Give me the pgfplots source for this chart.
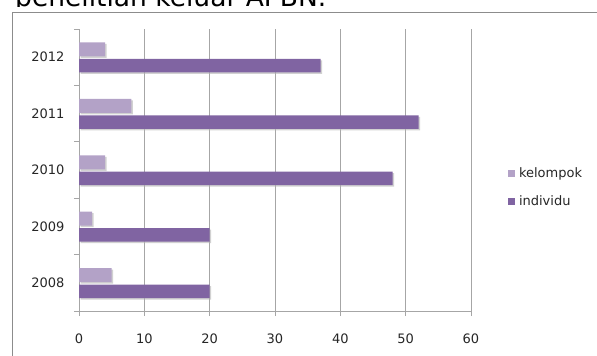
\documentclass[border=0pt]{standalone}
\usepackage{fontspec}
\setmainfont{DejaVu Sans}
\usepackage{pgfplots}
\pgfplotsset{compat=1.18}
\usetikzlibrary{shadows}
\definecolor{kel}{HTML}{B3A2C7}
\definecolor{ind}{HTML}{8064A2}
\definecolor{gridc}{HTML}{A6A6A6}
\begin{document}
\begin{tikzpicture}[x=1pt,y=1pt]
\useasboundingbox (0,0) rectangle (597,356);
\begin{scope}
\clip (0,349) rectangle (597,356);
\node[anchor=base west, inner sep=0, font=\fontsize{26.5}{30}\selectfont] at (15,349.5) {penelitian keluar APBN.};
\end{scope}
\draw[black!45, line width=0.8pt] (12,0) -- (12,344) -- (597,344);
\begin{axis}[
  at={(79pt,45pt)}, anchor=south west,
  scale only axis, width=392pt, height=282pt,
  xmin=0, xmax=60, ymin=-0.5, ymax=4.5,
  axis x line*=bottom, axis y line*=left,
  axis line style={gridc, line width=0.8pt, -},
  xtick={0,10,...,60},
  xmajorgrids, major grid style={gridc, line width=0.8pt},
  ytick={0,1,2,3,4},
  yticklabels={2008,2009,2010,2011,2012},
  minor ytick={-0.5,0.5,1.5,2.5,3.5,4.5},
  major y tick style={draw=none},
  minor y tick style={gridc, line width=0.8pt},
  major x tick style={gridc, line width=0.8pt},
  tick align=outside, major tick length=5pt, minor tick length=5pt,
  tick label style={font=\fontsize{13}{15}\selectfont, text=black!85},
  /pgf/number format/assume math mode=true,
  xticklabel style={yshift=-14pt},
  yticklabel style={xshift=-6pt},
  xbar, bar width=14pt,
  legend style={at={(1.085,0.438)}, anchor=west, draw=none, fill=none,
    font=\fontsize{13}{15}\selectfont, row sep=12pt, text=black!85},
  legend cell align=left,
  clip=false,
]
\addplot[forget plot, fill=kel, draw=none, bar shift=7.7pt,
  /tikz/drop shadow={shadow xshift=1.5pt, shadow yshift=-1.5pt, fill=black!30, opacity=0.6}]
  coordinates {(5,0) (2,1) (4,2) (8,3) (4,4)};
\addplot[forget plot, fill=ind, draw=none, bar shift=-8.5pt, bar width=13.5pt,
  /tikz/drop shadow={shadow xshift=1.5pt, shadow yshift=-1.5pt, fill=black!30, opacity=0.6}]
  coordinates {(20,0) (20,1) (48,2) (52,3) (37,4)};
\addlegendimage{legend image code/.code={\path[draw=none,fill=none] (0pt,0pt) -- (9.5pt,0pt); \path[draw=none,fill=kel] (0pt,-3.5pt) rectangle (7pt,3.5pt);}}
\addlegendentry{kelompok}
\addlegendimage{legend image code/.code={\path[draw=none,fill=none] (0pt,0pt) -- (9.5pt,0pt); \path[draw=none,fill=ind] (0pt,-3.5pt) rectangle (7pt,3.5pt);}}
\addlegendentry{individu}
\end{axis}
\end{tikzpicture}
\end{document}
